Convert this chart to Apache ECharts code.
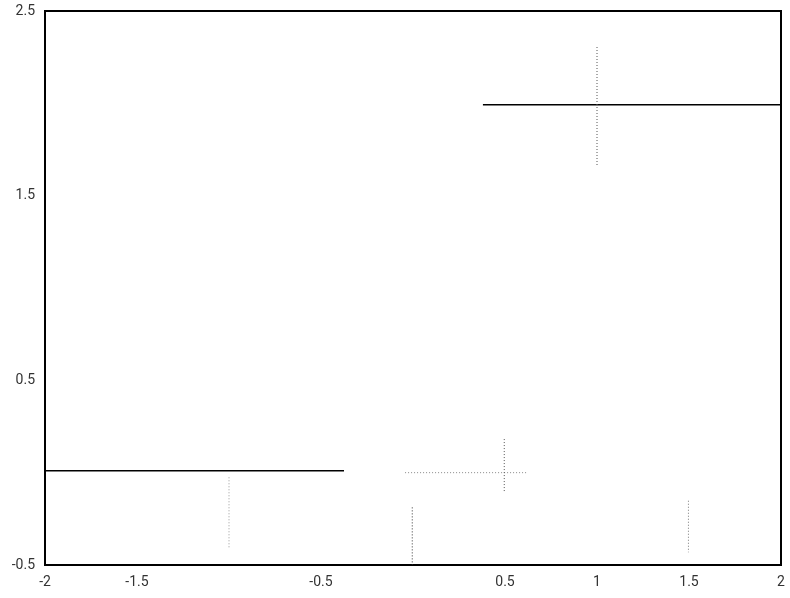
<!DOCTYPE html>
<html>
<head>
<meta charset="utf-8">
<script src="https://cdn.jsdelivr.net/npm/echarts@6/dist/echarts.min.js"></script>
<style>html,body{margin:0;padding:0;background:#fff}#c{width:790px;height:598px}</style>
</head>
<body>
<div id="c"></div>
<script>
// Solid horizontal segments: [x1, y1, x2, y2]
const solidSegments = [
  [-2, 0.01, -0.375, 0.01],
  [0.38, 1.992, 2, 1.992]
];
// Dotted segments: [x1, y1, x2, y2]
const dottedSegments = [
  [1.0, 2.305, 1.0, 1.657],
  [-0.043, 0.0, 0.623, 0.0],
  [0.496, 0.182, 0.496, -0.108],
  [-0.004, -0.188, -0.004, -0.5],
  [-1.0, -0.025, -1.0, -0.415],
  [1.497, -0.152, 1.497, -0.431]
];
const dottedColors = ['#555', '#888', '#555', '#333', '#999', '#777'];
const xLabels = [-2, -1.5, -0.5, 0.5, 1, 1.5, 2];
const yLabels = [-0.5, 0.5, 1.5, 2.5];

const series = [];
solidSegments.forEach(s => {
  series.push({
    type: 'line', symbol: 'none', silent: true,
    data: [[s[0], s[1]], [s[2], s[3]]],
    lineStyle: { color: '#000', width: 1.5 }
  });
});
dottedSegments.forEach((s, i) => {
  series.push({
    type: 'line', symbol: 'none', silent: true,
    data: [[s[0], s[1]], [s[2], s[3]]],
    lineStyle: { color: dottedColors[i], width: 1, type: [1, 2] }
  });
});

const chart = echarts.init(document.getElementById('c'), null, { renderer: 'canvas' });
chart.setOption({
  animation: false,
  backgroundColor: '#fff',
  grid: { left: 45, right: 9, top: 11, bottom: 33, show: true, borderColor: '#000', borderWidth: 2, backgroundColor: 'transparent' },
  xAxis: {
    type: 'value', min: -2, max: 2, interval: 0.5,
    axisLine: { show: true, onZero: false, lineStyle: { color: '#000', width: 2 } },
    axisTick: { show: false },
    splitLine: { show: false },
    axisLabel: {
      margin: 10, fontSize: 14, color: '#333', fontFamily: 'Roboto, sans-serif',
      showMinLabel: true, showMaxLabel: true,
      formatter: v => xLabels.some(l => Math.abs(l - v) < 1e-9) ? String(v) : ''
    }
  },
  yAxis: {
    type: 'value', min: -0.5, max: 2.5, interval: 0.5,
    axisLine: { show: true, onZero: false, lineStyle: { color: '#000', width: 2 } },
    axisTick: { show: false },
    splitLine: { show: false },
    axisLabel: {
      margin: 10, fontSize: 14, color: '#333', fontFamily: 'Roboto, sans-serif',
      showMinLabel: true, showMaxLabel: true,
      formatter: v => yLabels.some(l => Math.abs(l - v) < 1e-9) ? String(v) : ''
    }
  },
  series: series
});
</script>
</body>
</html>
